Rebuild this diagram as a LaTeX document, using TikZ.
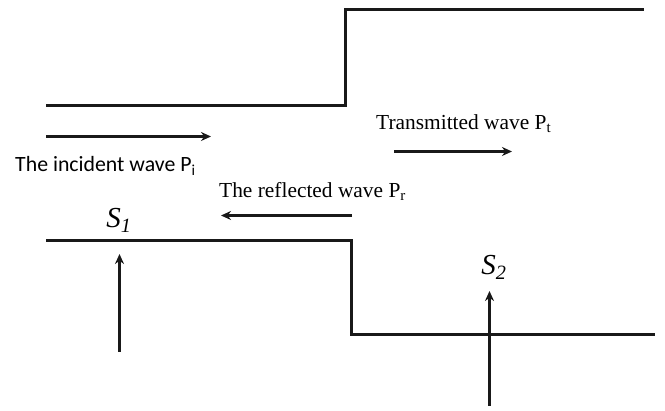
\documentclass[tikz,border=0pt]{standalone}
\usepackage{fontspec}
\setmainfont{Liberation Serif}
\newfontfamily\lblsans{Carlito}
\usepackage{tikz}
\usetikzlibrary{arrows.meta,positioning}
\begin{document}
\begin{tikzpicture}[x=1pt,y=-1pt,
  >={Stealth[length=10pt,width=9pt]},
  wall/.style={draw=black!90, line width=2.8pt, line join=miter},
  flow/.style={->, draw=black!90, line width=2.8pt},
  lab/.style={inner sep=0pt, font=\fontsize{21.4}{24}\selectfont},
  labs/.style={inner sep=0pt, font=\fontsize{21.8}{24}\selectfont\lblsans},
  sec/.style={inner sep=0pt, font=\fontsize{29}{32}\selectfont},
]
\useasboundingbox (0,0) rectangle (665,411);
\coordinate (T0) at (46,105.5);
\coordinate (T1) at (345.5,105.5);
\coordinate (T2) at (345.5,9.5);
\coordinate (T3) at (644,9.5);
\coordinate (B0) at (46,240.5);
\coordinate (B1) at (351.5,240.5);
\coordinate (B2) at (351.5,334.5);
\coordinate (B3) at (655,334.5);
\draw[wall] (T0)--(T1)--(T2)--(T3);
\draw[wall] (B0)--(B1)--(B2)--(B3);
\coordinate (i0) at (46,136.5);
\coordinate (i1) at (211,136.5);
\coordinate (t0) at (394,151.5);
\coordinate (t1) at (512,151.5);
\coordinate (r0) at (352,215.5);
\coordinate (r1) at (221,215.5);
\coordinate (a0) at (119.5,352);
\coordinate (a1) at (119.5,254);
\coordinate (b0) at (489.5,406);
\coordinate (b1) at (489.5,291);
\draw[flow] (i0)--(i1);
\draw[flow] (t0)--(t1);
\draw[flow] (r0)--(r1);
\draw[flow] (a0)--(a1);
\draw[flow] (b0)--(b1);
\node[labs, anchor=west] (Pi) at (15,166) {The incident wave P\textsubscript{i}};
\node[lab, anchor=west] (Pr) at (219,191.5) {The reflected wave P\textsubscript{r}};
\node[lab, anchor=west] (Pt) at (376,123.5) {Transmitted wave P\textsubscript{t}};
\node[sec] (S1) at (119,220) {\textit{S\textsubscript{1}}};
\node[sec] (S2) at (494,267) {\textit{S}\textsubscript{\textit{2}}};
\end{tikzpicture}
\end{document}
